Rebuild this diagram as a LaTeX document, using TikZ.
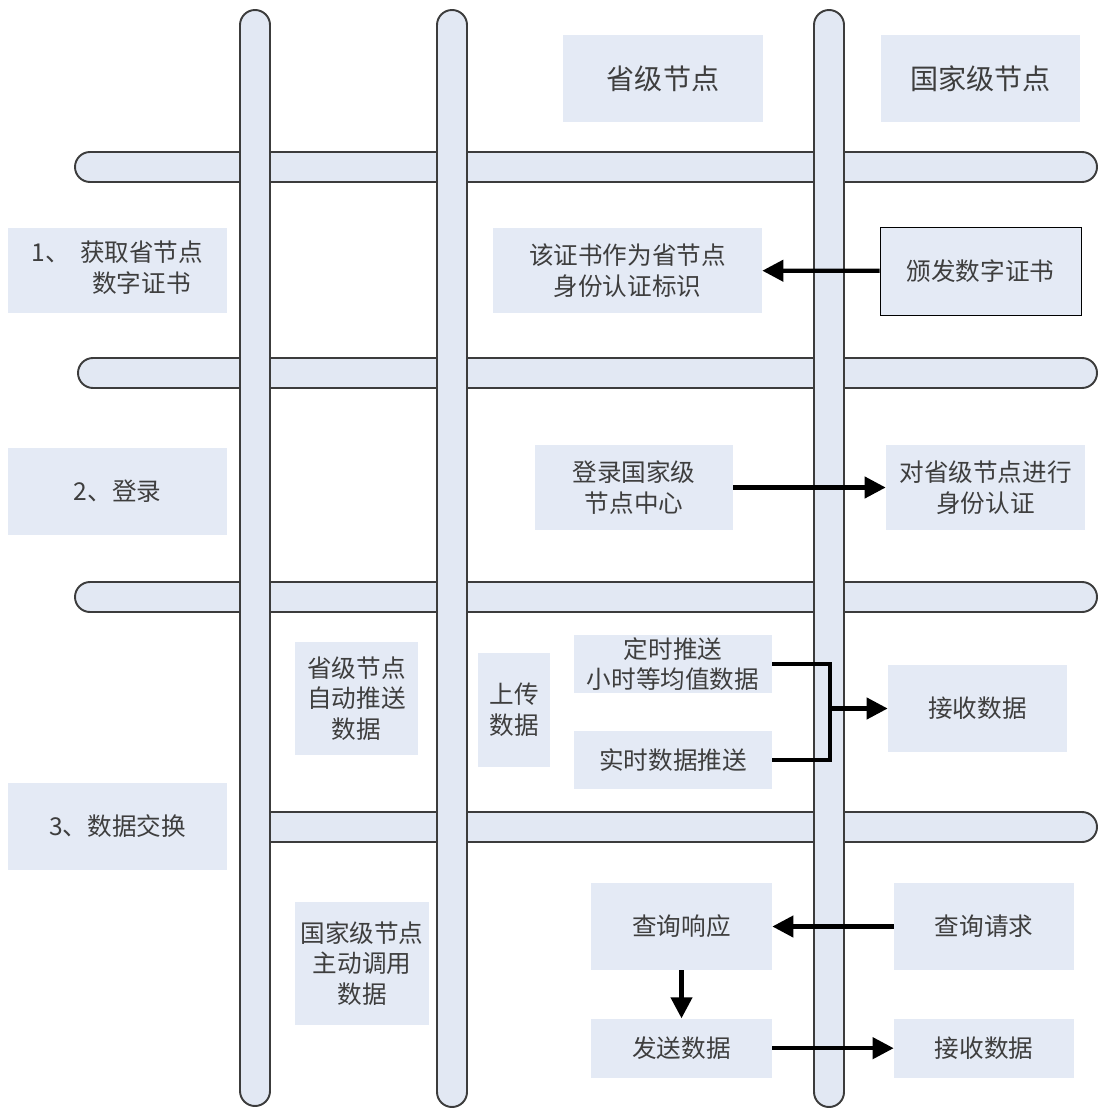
\documentclass[tikz,border=0pt]{standalone}
\usepackage{fontspec}
\setmainfont{Noto Sans CJK SC}
\usetikzlibrary{arrows.meta,positioning}
\definecolor{rohrblau}{RGB}{226,232,243}
\definecolor{feldblau}{RGB}{228,234,245}
\definecolor{randgrau}{RGB}{60,60,60}
\definecolor{schrift}{RGB}{62,62,62}
\tikzset{
    %Define standard arrow tip
    >={Triangle[length=12pt,width=12pt]},
    %Define style for boxes
    feld/.style={
           fill = feldblau,
           text = schrift,
           align = center,
           inner sep = 0pt,
           font = \fontsize{14}{17.5}\selectfont},
    kopf/.style={
           feld,
           font = \fontsize{16}{20}\selectfont},
    rahmen/.style={
           feld,
           draw = black, thin},
    gr/.style 2 args={
           minimum width = #1,
           minimum height = #2},
    % Define style for the pipes
    rohr/.style={
           fill = rohrblau,
           draw = randgrau,
           line width = 1.1pt,
           rounded corners = 0.3cm},
    % Define arrow style
    pfeil/.style={
           ->,
           line width = 2.4pt},
    strich/.style={
           line width = 2.4pt}
}
\begin{document}
\begin{tikzpicture}[x=0.02cm, y=-0.02cm, node distance=1cm]
\useasboundingbox (0,0) rectangle (1099,1111);
 %pipes
\draw[rohr] (75,152) rectangle (1097,182);
\draw[rohr] (78,358) rectangle (1097,388);
\draw[rohr] (75,582) rectangle (1097,612);
\draw[rohr, sharp corners] (255,812) -- (1082,812) arc[start angle=90, end angle=-90, radius=0.3cm]
    -- (255,842) -- cycle;
\draw[rohr] (240,10) rectangle (270,1106);
\draw[rohr] (437,10) rectangle (467,1107);
\draw[rohr] (814,10) rectangle (844,1107);
 %headers
\node[kopf, gr={4cm}{1.74cm}] (prov) at (663,78.5) {省级节点};
\node[kopf, gr={3.98cm}{1.74cm}] (nat) at (980.5,78.5) {国家级节点};
 %step 1
\node[feld, gr={4.38cm}{1.70cm}] (s1) at (117.5,270.5)
    {\begin{tabular}{@{}l@{\hspace{0.4em}}c@{}}1、&获取省节点\\&数字证书\end{tabular}};
\node[feld, gr={5.38cm}{1.70cm}] (zert) at (627.5,270.5) {该证书作为省节点\\身份认证标识};
\node[rahmen, gr={4.02cm}{1.76cm}] (ausg) at (980.5,271) {颁发数字证书}
    edge[pfeil] (zert);
 %step 2
\node[feld, gr={4.38cm}{1.74cm}] (s2) at (117.5,491.5) {2、登录};
\node[feld, gr={3.98cm}{1.70cm}] (auth) at (985.5,487.5) {对省级节点进行\\身份认证};
\node[feld, gr={3.96cm}{1.70cm}] (login) at (634,487.5) {登录国家级\\节点中心}
    edge[pfeil] (auth);
 %step 3
\node[feld, gr={4.38cm}{1.74cm}] (s3) at (117.5,826.5) {3、数据交换};
\node[feld, gr={2.46cm}{2.26cm}] (auto) at (356.5,698.5) {省级节点\\自动推送\\数据};
\node[feld, gr={1.44cm}{2.28cm}] (hoch) at (514,710) {上传\\数据};
\node[feld, gr={3.96cm}{1.16cm}] (takt) at (673,664) {定时推送\\小时等均值数据};
\node[feld, gr={3.96cm}{1.16cm}, below = 0.74cm of takt] (echt) {实时数据推送};
\node[feld, gr={3.58cm}{1.74cm}] (emp1) at (977.5,708.5) {接收数据};
\coordinate (knick) at (830,708.5);
\draw[strich] (takt.east) -| (knick) |- (echt.east);
\draw[pfeil] (knick) -- (emp1);
\node[feld, gr={2.68cm}{2.46cm}] (abruf) at (362,963.5) {国家级节点\\主动调用\\数据};
\node[feld, gr={3.62cm}{1.74cm}] (antw) at (681.5,926.5) {查询响应};
\node[feld, gr={3.60cm}{1.74cm}] (anfr) at (984,926.5) {查询请求}
    edge[pfeil] (antw);
\node[feld, gr={3.60cm}{1.18cm}, below = 0.96cm of anfr] (emp2) {接收数据};
\node[feld, gr={3.62cm}{1.18cm}, below = 0.96cm of antw] (send) {发送数据}
    edge[pfeil] (emp2);
\draw[pfeil] (antw) -- (send);
\end{tikzpicture}
\end{document}
